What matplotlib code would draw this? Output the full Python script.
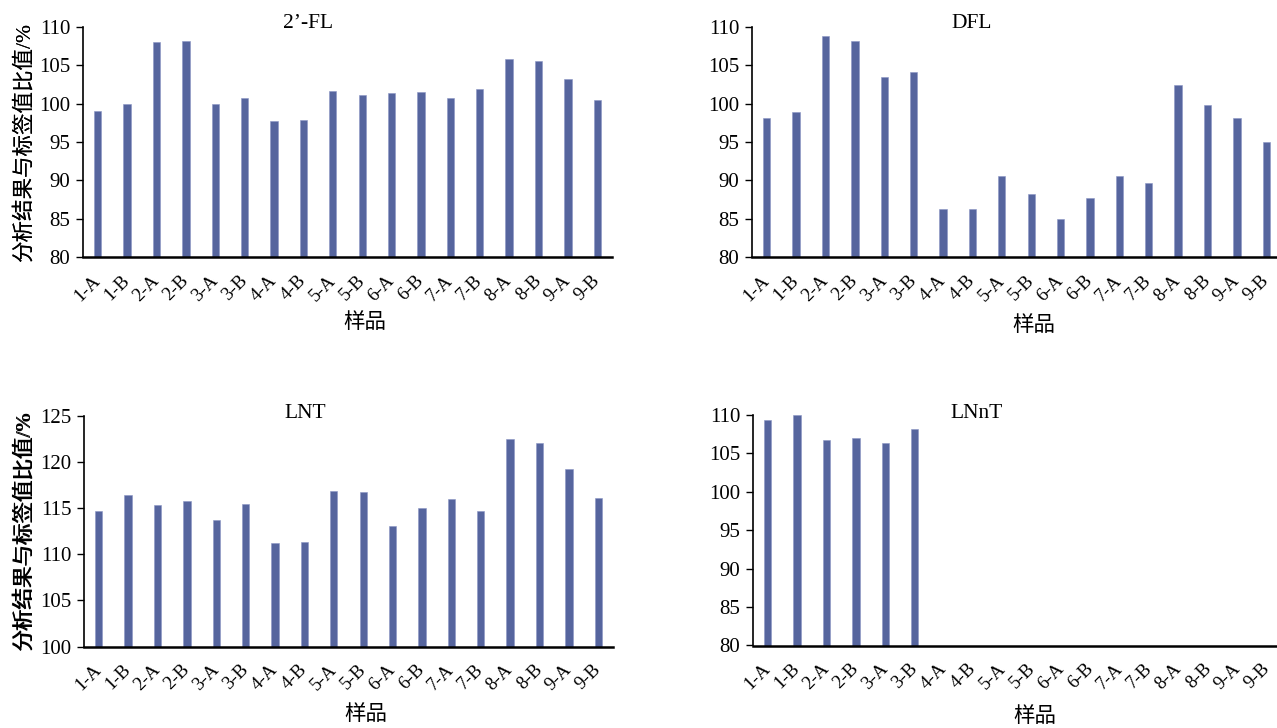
import numpy as np
import matplotlib
matplotlib.use("Agg")
import matplotlib.pyplot as plt

plt.rcParams['font.family'] = ['Liberation Serif', 'Noto Sans CJK SC']

# 样品
samples = ['1-A', '1-B', '2-A', '2-B', '3-A', '3-B', '4-A', '4-B', '5-A',
           '5-B', '6-A', '6-B', '7-A', '7-B', '8-A', '8-B', '9-A', '9-B']

fl_2 = [99.0, 100.0, 108.1, 108.2, 99.9, 100.7, 97.8, 97.9, 101.7,
        101.1, 101.4, 101.5, 100.8, 101.9, 105.8, 105.6, 103.2, 100.5]
dfl = [98.1, 98.9, 108.8, 108.2, 103.5, 104.1, 86.2, 86.3, 90.6,
       88.2, 84.9, 87.7, 90.6, 89.7, 102.4, 99.8, 98.1, 95.0]
lnt = [114.7, 116.4, 115.3, 115.8, 113.7, 115.5, 111.2, 111.3, 116.9,
       116.8, 113.1, 115.0, 116.0, 114.7, 122.5, 122.1, 119.2, 116.1]
# LNnT 只有前 6 个样品
lnnt = [109.3, 110.0, 106.7, 107.0, 106.3, 108.2] + [np.nan] * 12

titles = ['2\u2019-FL', 'DFL', 'LNT', 'LNnT']
ylims = [(80, 110), (80, 110), (100, 125), (80, 110)]

bar_color = '#56659e'
W, H = 1277, 728

fig = plt.figure(figsize=(12.77, 7.28), dpi=100)

# 每个子图: (左, 上, 右, 下) 像素, 标题中心像素, 横轴标题中心 y
panels = [
    (fl_2, (83, 27, 612, 257), (308, 24), 323),
    (dfl, (752, 27, 1281, 257), (972, 24), 326),
    (lnt, (84, 416, 613, 646.5), (305, 413), 715),
    (lnnt, (753, 415, 1282, 645.5), (977, 413), 717),
]

for i, (vals, (l, t, r, b), (tx, ty), xly) in enumerate(panels):
    ax = fig.add_axes([l / W, 1 - b / H, (r - l) / W, (b - t) / H])
    x = np.arange(len(samples))
    ax.bar(x, vals, width=0.25, color=bar_color, edgecolor='#8a96c4',
           linewidth=0.4)
    ax.set_xlim(-0.5, len(samples) - 0.5)
    ax.set_ylim(*ylims[i])
    ax.set_yticks(np.arange(ylims[i][0], ylims[i][1] + 1, 5))
    ax.set_xticks(x)
    ax.set_xticklabels(samples, rotation=45, ha='right', va='center',
                       rotation_mode='anchor', fontsize=13.5)
    ax.tick_params(axis='x', length=0, pad=15)
    ax.tick_params(axis='y', direction='out', length=5, width=1,
                   labelsize=15, pad=4)
    for s in ['top', 'right']:
        ax.spines[s].set_visible(False)
    ax.spines['left'].set_linewidth(1.2)
    ax.spines['bottom'].set_linewidth(1.8)

    ax.set_ylabel('分析结果与标签值比值/%', fontsize=15.5, va='center')
    ax.yaxis.set_label_coords((24 - l) / (r - l), 0.5)
    ax.set_xlabel('样品', fontsize=15.5, va='center')
    ax.xaxis.set_label_coords(0.533, (b - xly) / (b - t))

    fig.text(tx / W, 1 - ty / H, titles[i], fontsize=15.5,
             ha='center', va='center')

plt.savefig('out.png', dpi=100)
